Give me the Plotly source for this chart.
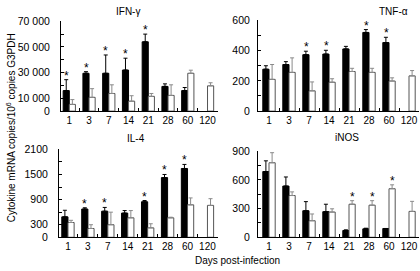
import plotly.graph_objects as go

days = ["1", "3", "7", "14", "21", "28", "60", "120"]

# IFN-gamma
ifn_black = [16000, 29500, 29500, 32000, 54000, 19250, 16000, None]
ifn_black_err = [8500, 1250, 14250, 9250, 6000, 2000, 2400, 0]
ifn_white = [5250, 10750, 13750, 7750, 11500, 12250, 29500, 19700]
ifn_white_err = [3750, 6750, 6750, 4250, 2250, 8250, 2400, 2400]
ifn_star_black = [1, 1, 1, 1, 1, 0, 0, 0]
ifn_star_white = [0, 0, 0, 0, 0, 0, 0, 0]

# TNF-alpha
tnf_black = [277, 308, 373, 377, 411, 520, 453, None]
tnf_black_err = [23, 19, 23, 25, 17, 19, 35, 0]
tnf_white = [210, 256, 134, 191, 262, 256, 199, 233]
tnf_white_err = [98, 96, 59, 23, 21, 27, 21, 35]
tnf_star_black = [0, 0, 1, 1, 0, 1, 1, 0]
tnf_star_white = [0, 0, 0, 0, 0, 0, 0, 0]

# IL-4
il4_black = [488, 675, 623, 578, 848, 1425, 1643, None]
il4_black_err = [157, 30, 90, 60, 30, 75, 97, 0]
il4_white = [353, 210, 300, 465, 225, 465, 775, 762]
il4_white_err = [52, 90, 300, 173, 98, 15, 165, 160]
il4_star_black = [0, 1, 1, 0, 1, 1, 1, 0]
il4_star_white = [0, 0, 0, 0, 0, 0, 0, 0]

# iNOS
inos_black = [688, 536, 278, 268, 71, 88, 92, None]
inos_black_err = [112, 95, 95, 78, 7, 7, 0, 0]
inos_white = [780, 437, 173, 264, 346, 336, 508, 271]
inos_white_err = [105, 38, 71, 34, 37, 47, 41, 105]
inos_star_black = [0, 0, 0, 0, 0, 0, 0, 0]
inos_star_white = [0, 0, 0, 0, 1, 1, 1, 0]

W, H = 420, 271
FONT = "Liberation Sans, Arial, Helvetica, sans-serif"

panels = [
    dict(name="IFN-γ", b=ifn_black, be=ifn_black_err, w=ifn_white, we=ifn_white_err,
         sb=ifn_star_black, sw=ifn_star_white,
         xpx=(61, 218), ypx=(110, 16), xr=[-0.42, 7.53], yr=[0, 70000],
         tv=[0, 10000, 30000, 50000, 70000], tt=["0", "10 000", "30 000", "50 000", "70 000"],
         minor=10000, title=(128, 6), standoff=8),
    dict(name="TNF-α", b=tnf_black, be=tnf_black_err, w=tnf_white, we=tnf_white_err,
         sb=tnf_star_black, sw=tnf_star_white,
         xpx=(258, 419), ypx=(110, 15), xr=[-0.55, 7.5], yr=[0, 600],
         tv=[0, 200, 400, 600], tt=["0", "200", "400", "600"],
         minor=100, title=(393, 6), standoff=5),
    dict(name="IL-4", b=il4_black, be=il4_black_err, w=il4_white, we=il4_white_err,
         sb=il4_star_black, sw=il4_star_white,
         xpx=(59, 218), ypx=(242, 150), xr=[-0.45, 7.53], yr=[0, 2100],
         tv=[0, 300, 900, 1500, 2100], tt=["0", "300", "900", "1500", "2100"],
         minor=300, title=(136, 139), standoff=8),
    dict(name="iNOS", b=inos_black, be=inos_black_err, w=inos_white, we=inos_white_err,
         sb=inos_star_black, sw=inos_star_white,
         xpx=(258, 419), ypx=(242, 152), xr=[-0.55, 7.5], yr=[0, 900],
         tv=[0, 300, 600, 900], tt=["0", "300", "600", "900"],
         minor=150, title=(347, 138), standoff=5),
]

fig = go.Figure()
annotations = []
layout = {}

for i, p in enumerate(panels):
    n = "" if i == 0 else str(i + 1)
    xa, ya = "x" + n, "y" + n
    zeros = [0] * len(days)
    fig.add_trace(go.Bar(
        x=days, y=p["b"], xaxis=xa, yaxis=ya,
        marker=dict(color="black", line=dict(color="black", width=1)),
        error_y=dict(type="data", array=p["be"], arrayminus=zeros, symmetric=False,
                     color="black", thickness=1, width=2),
        showlegend=False, offsetgroup="a", hoverinfo="skip"))
    fig.add_trace(go.Bar(
        x=days, y=p["w"], xaxis=xa, yaxis=ya,
        marker=dict(color="white", line=dict(color="#555555", width=1)),
        error_y=dict(type="data", array=p["we"], arrayminus=zeros, symmetric=False,
                     color="#8a8a8a", thickness=1, width=2),
        showlegend=False, offsetgroup="b", hoverinfo="skip"))

    x0, x1 = p["xpx"]
    y0, y1 = p["ypx"]
    layout["xaxis" + n] = dict(
        domain=[x0 / W, x1 / W], anchor=ya, type="category", range=p["xr"],
        categoryorder="array", categoryarray=days,
        showline=True, linecolor="black", linewidth=1, showgrid=False, zeroline=False,
        ticks="inside", ticklen=3, tickcolor="black", tickson="boundaries", tickangle=0,
        tickfont=dict(family=FONT, size=10, color="black"), fixedrange=True)
    layout["yaxis" + n] = dict(
        domain=[(H - y0) / H, (H - y1) / H], anchor=xa, range=p["yr"],
        showline=True, linecolor="black", linewidth=1, showgrid=False, zeroline=False,
        tickvals=p["tv"], ticktext=p["tt"], ticks="inside", ticklen=3, tickcolor="black",
        ticklabelstandoff=p["standoff"],
        minor=dict(dtick=p["minor"], ticks="inside", ticklen=3, tickcolor="black"),
        tickfont=dict(family=FONT, size=10.5, color="black"), fixedrange=True)

    for j, d in enumerate(days):
        if p["sb"][j]:
            annotations.append(dict(x=j, y=(p["b"][j] or 0) + p["be"][j], xref=xa, yref=ya,
                                    text="*", showarrow=False, xshift=-3, yanchor="bottom",
                                    yshift=-5, font=dict(family=FONT, size=12, color="black")))
        if p["sw"][j]:
            annotations.append(dict(x=j, y=p["w"][j] + p["we"][j], xref=xa, yref=ya,
                                    text="*", showarrow=False, xshift=3, yanchor="bottom",
                                    yshift=-5, font=dict(family=FONT, size=12, color="black")))
    tx, ty = p["title"]
    annotations.append(dict(x=tx / W, y=(H - ty) / H, xref="paper", yref="paper",
                            text=p["name"], showarrow=False, xanchor="center", yanchor="middle",
                            font=dict(family=FONT, size=10, color="black")))

annotations.append(dict(x=237 / W, y=(H - 266) / H, xref="paper", yref="paper",
                        text="Days post-infection", showarrow=False, xanchor="center",
                        yanchor="middle", font=dict(family=FONT, size=10, color="black")))
annotations.append(dict(x=11 / W, y=(H - 128) / H, xref="paper", yref="paper",
                        text="Cytokine mRNA copies/10<sup>6</sup> copies G3PDH", textangle=-90,
                        showarrow=False, xanchor="center", yanchor="middle",
                        font=dict(family=FONT, size=10, color="black")))

fig.update_layout(
    width=W, height=H, margin=dict(l=0, r=0, t=0, b=0),
    paper_bgcolor="white", plot_bgcolor="white",
    barmode="group", bargap=0.38, bargroupgap=0,
    annotations=annotations, showlegend=False, hovermode=False,
    **layout)

fig.write_html(
    "out.html",
    config={"displayModeBar": False, "staticPlot": True},
    post_script="document.body.style.margin='0';document.body.style.overflow='hidden';"
                "document.documentElement.style.overflow='hidden';")
